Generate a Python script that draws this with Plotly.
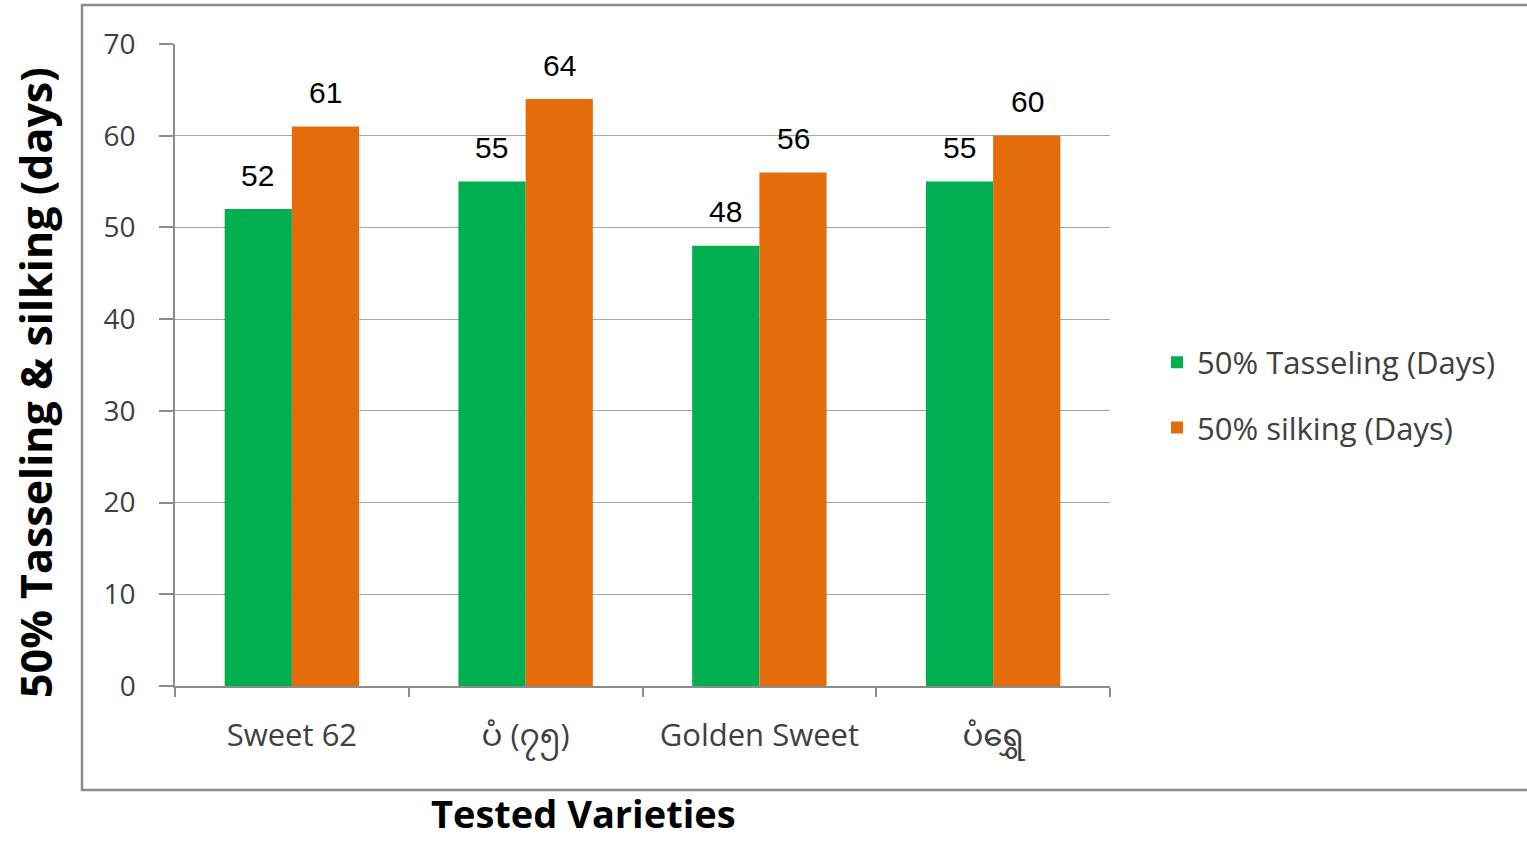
import plotly.graph_objects as go

categories = ["Sweet 62", "ပံ (၇၅)", "Golden Sweet", "ပံရွှေ"]
tasseling = [52, 55, 48, 55]
silking = [61, 64, 56, 60]
y_ticks = [0, 10, 20, 30, 40, 50, 60, 70]

GREEN = "#00b050"
ORANGE = "#e46c0a"
AXIS = "#8c8c8c"
GRID = "#a6a6a6"

# plot area in pixels: x 175..1110, y 44..686
PW, PH = 935, 642

fig = go.Figure()
fig.add_trace(go.Bar(
    x=categories, y=tasseling, name="50% Tasseling (Days)", legendgroup="t",
    marker=dict(color=GREEN, line=dict(width=0)),
))
fig.add_trace(go.Bar(
    x=categories, y=silking, name="50% silking (Days)", legendgroup="s",
    marker=dict(color=ORANGE, line=dict(width=0)),
))

# data labels above bars
for series, shift in ((tasseling, -34), (silking, 34)):
    for cat, val in zip(categories, series):
        fig.add_annotation(x=cat, y=val, xref="x", yref="y", text=str(val),
                           showarrow=False, xshift=shift, yshift=34,
                           xanchor="center", yanchor="middle",
                           font=dict(family="Liberation Sans, Arial", size=30, color="#000000"))

fig.update_layout(
    width=1527, height=843,
    margin=dict(l=175, r=417, t=44, b=157),
    paper_bgcolor="white", plot_bgcolor="white",
    barmode="group", bargap=0.425, bargroupgap=0,
    font=dict(family="Open Sans, Noto Sans, Noto Sans Myanmar, sans-serif", color="#404040"),
    showlegend=True,
    legend=dict(
        x=(1157 - 1110) / PW + 1.0, y=(686 - 395) / PH, xanchor="left", yanchor="middle",
        font=dict(size=31, color="#404040"),
        itemwidth=30, tracegroupgap=22, traceorder="grouped",
    ),
)

fig.update_yaxes(
    range=[0, 70], tickvals=y_ticks,
    showgrid=True, gridcolor=GRID, gridwidth=1.3,
    showline=True, linecolor=AXIS, linewidth=1.5,
    ticks="outside", ticklen=14, tickcolor=AXIS, tickwidth=1.5,
    tickfont=dict(size=28, color="#404040"),
    ticklabelstandoff=18,
    zeroline=False,
)
fig.update_xaxes(
    showline=True, linecolor=AXIS, linewidth=1.5,
    ticks="outside", tickson="boundaries", ticklen=9, tickcolor=AXIS, tickwidth=1.5,
    tickfont=dict(size=31, color="#404040"),
    ticklabelstandoff=21,
    showgrid=False,
)

# outer chart border
fig.add_shape(type="rect", xref="paper", yref="paper",
              x0=(82 - 175) / PW, x1=(1540 - 175) / PW,
              y0=(686 - 790) / PH, y1=(686 - 5) / PH,
              line=dict(color="#8c8c8c", width=2.5), fillcolor="rgba(0,0,0,0)", layer="below")

# axis titles
fig.add_annotation(text="<b>50% Tasseling & silking (days)</b>", xref="paper", yref="paper",
                   x=(35 - 175) / PW, y=(686 - 383) / PH, textangle=-90, showarrow=False,
                   xanchor="center", yanchor="middle",
                   font=dict(family="Open Sans, Noto Sans, sans-serif", size=43, color="#000000"))
fig.add_annotation(text="<b>Tested Varieties</b>", xref="paper", yref="paper",
                   x=(583 - 175) / PW, y=-(813 - 686) / PH, showarrow=False,
                   xanchor="center", yanchor="middle",
                   font=dict(family="Open Sans, Noto Sans, sans-serif", size=38, color="#000000"))

fig.write_html("out.html", config={"displayModeBar": False},
               post_script="document.body.style.margin='0';document.body.style.overflow='hidden';")
